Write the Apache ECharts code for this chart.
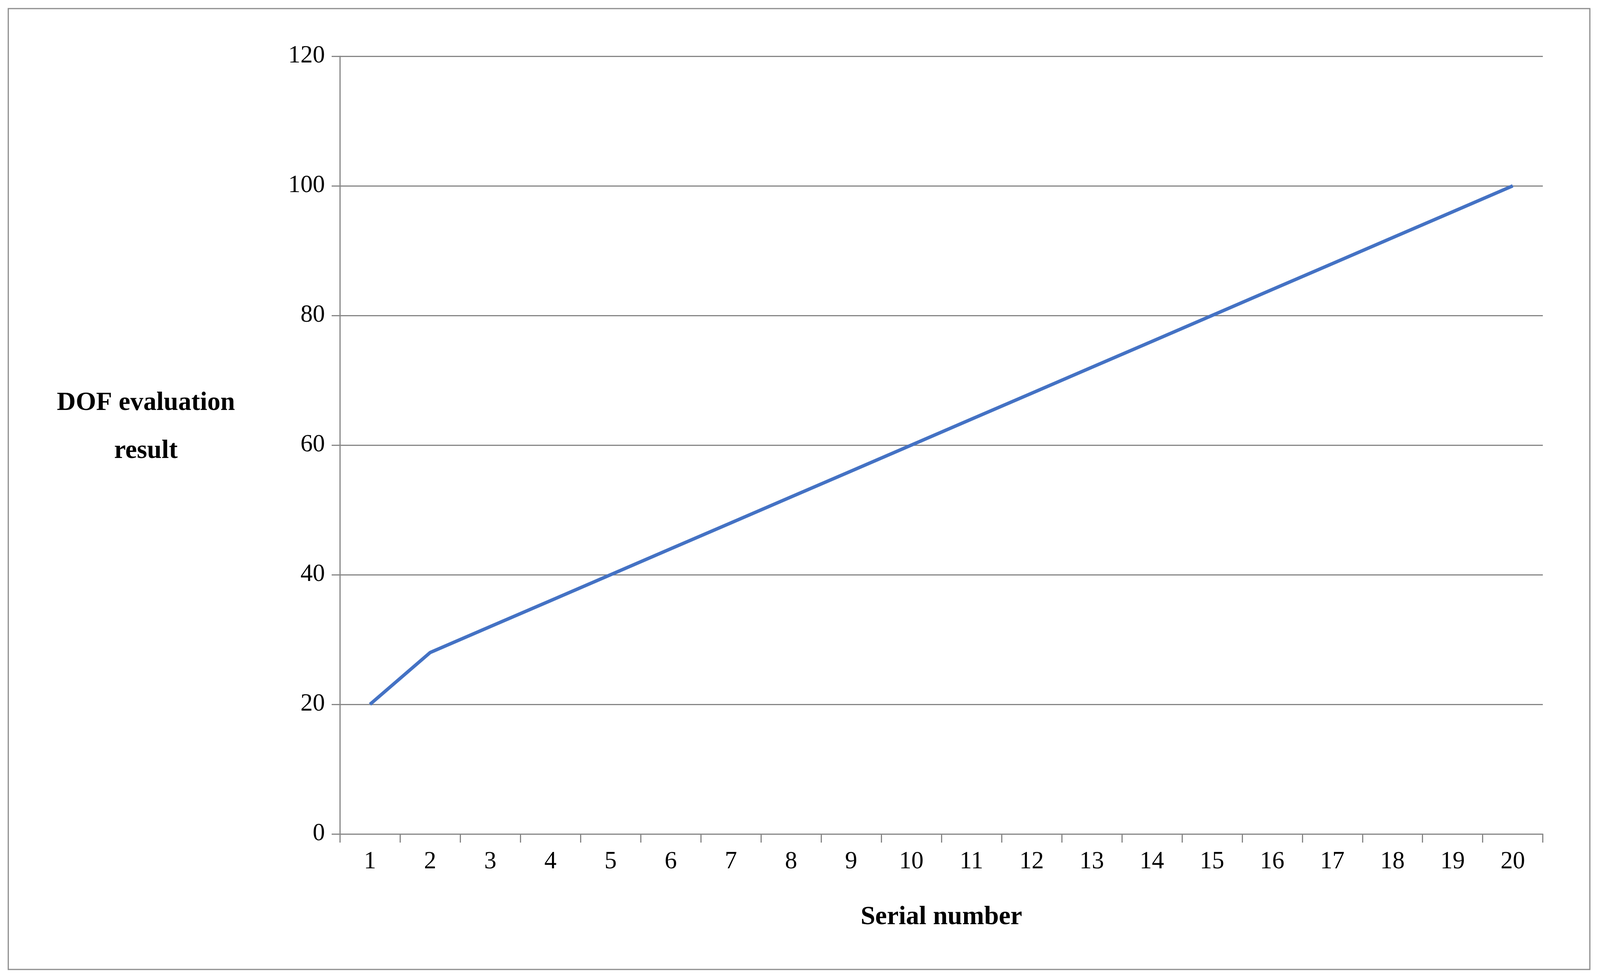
<!DOCTYPE html>
<html><head><meta charset="utf-8">
<script src="https://cdn.jsdelivr.net/npm/echarts@6/dist/echarts.min.js"></script>
<style>html,body{margin:0;padding:0;background:#fff;overflow:hidden;width:100%;height:100%}#c{width:100vw;height:100vh}</style>
</head><body><div id="c"></div>
<script>
const categories = ['1','2','3','4','5','6','7','8','9','10','11','12','13','14','15','16','17','18','19','20'];
const values = [20,28,32,36,40,44,48,52,56,60,64,68,72,76,80,84,88,92,96,100];
const yTicks = {min:0,max:120,interval:20};
const F = '"Liberation Serif","Times New Roman",serif';
const el = document.getElementById('c');
const W = el.clientWidth, H = el.clientHeight, sx = W/4255, sy = H/2510;
const chart = echarts.init(el);
chart.setOption({
  animation:false,
  backgroundColor:'#fff',
  graphic:[
    {type:'rect',shape:{x:22*sx,y:22*sy,width:4206*sx,height:2461*sy},style:{fill:'none',stroke:'#8c8c8c',lineWidth:3}},
    {type:'text',x:388*sx,y:1094*sy,style:{text:'DOF evaluation\nresult',font:'bold '+Math.round(70*sx)+'px '+F,fill:'#000',align:'center',verticalAlign:'middle',lineHeight:128*sx}}
  ],
  grid:{left:904*sx,right:152*sx,top:144*sy,bottom:374*sy},
  xAxis:{type:'category',data:categories,boundaryGap:true,
    name:'Serial number',nameLocation:'middle',nameGap:180*sy,
    nameTextStyle:{fontFamily:F,fontWeight:'bold',fontSize:70*sx,color:'#000'},
    axisLine:{lineStyle:{color:'#868686',width:3}},
    axisTick:{show:true,length:22*sy,lineStyle:{color:'#868686',width:3}},
    axisLabel:{fontFamily:F,fontSize:65*sx,color:'#000',margin:40*sy}},
  yAxis:{type:'value',min:yTicks.min,max:yTicks.max,interval:yTicks.interval,
    axisLine:{show:true,lineStyle:{color:'#868686',width:3}},
    axisTick:{show:true,length:22*sx,lineStyle:{color:'#868686',width:3}},
    splitLine:{lineStyle:{color:'#868686',width:3}},
    axisLabel:{fontFamily:F,fontSize:65*sx,color:'#000',margin:40*sx}},
  series:[{type:'line',data:values,symbol:'circle',symbolSize:1,showSymbol:true,
    itemStyle:{opacity:0},
    lineStyle:{color:'#4472C4',width:9*sx},
    label:{show:true,position:'right',distance:60*sx,fontFamily:F,fontSize:65*sx,color:'#000'}}]
});
</script></body></html>
